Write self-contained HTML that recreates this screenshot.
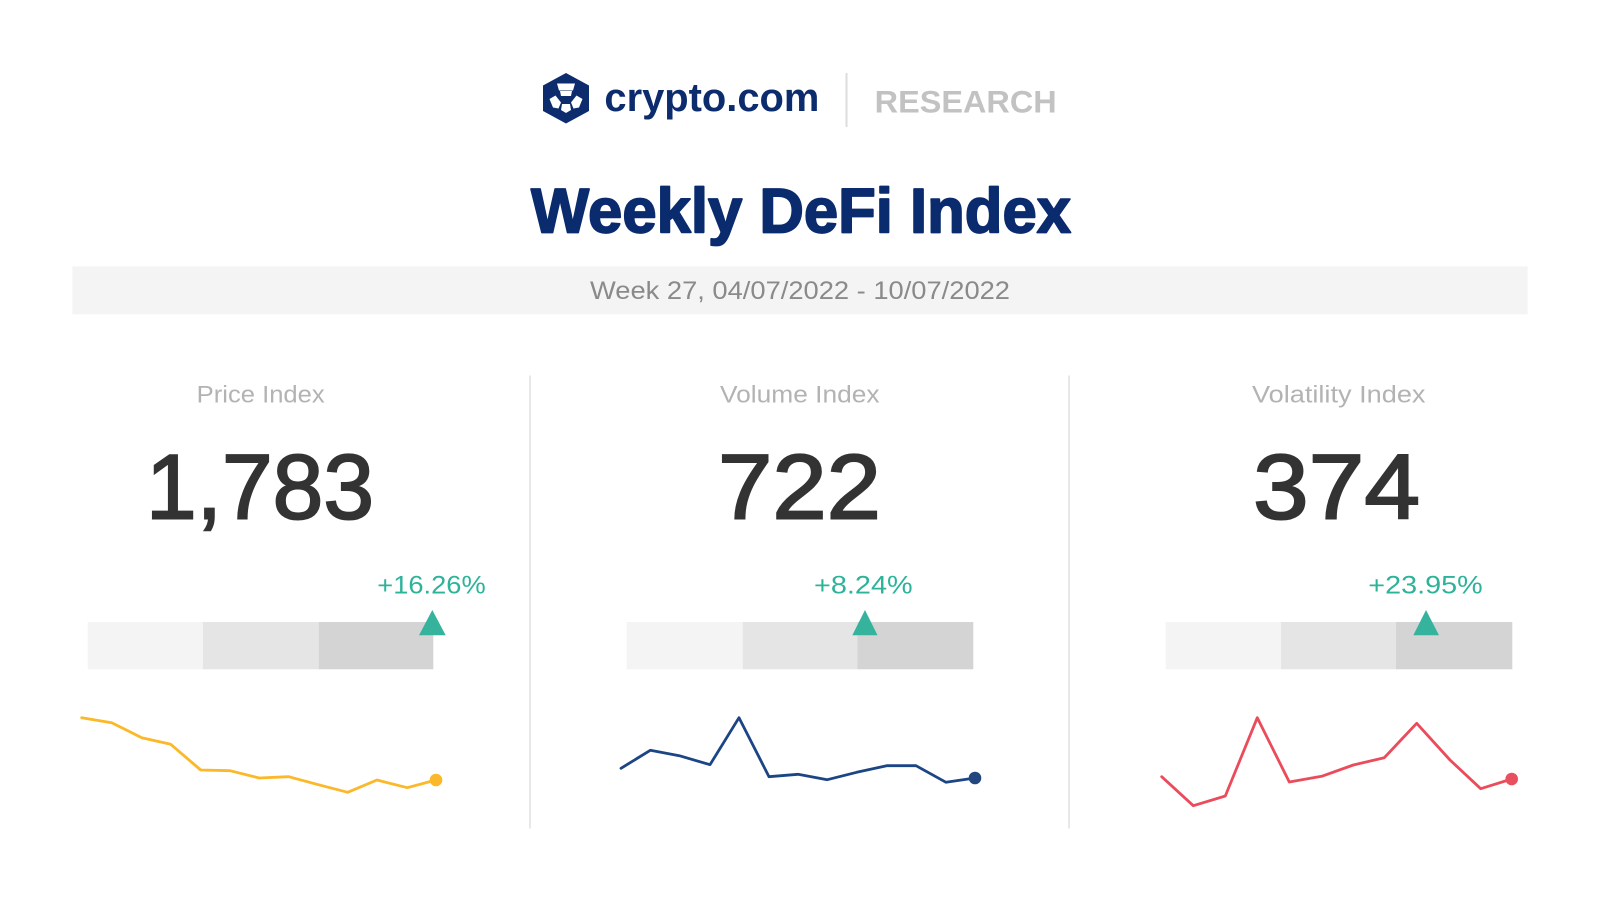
<!DOCTYPE html>
<html>
<head>
<meta charset="utf-8">
<style>
  html, body { margin: 0; padding: 0; background: #ffffff; }
  body { width: 1600px; height: 899px; overflow: hidden; }
  svg { display: block; }
  text { font-family: "Liberation Sans", "DejaVu Sans", sans-serif; }
</style>
</head>
<body>
<svg width="1600" height="899" viewBox="0 0 1600 899" xmlns="http://www.w3.org/2000/svg">
  <rect x="0" y="0" width="1600" height="899" fill="#ffffff"/>

  <!-- Logo -->
  <polygon points="566,73 589,85.5 589,111 566,123.5 543,111 543,85.5" fill="#0c2c6e"/>
  <polygon points="557,83.5 575,83.5 573,90.5 559,90.5" fill="#ffffff"/>
  <polygon points="560,91 572,91 571,96 561,96" fill="#ffffff"/>
  <polygon points="549.5,99 555.5,95.5 561,102.5 558.5,108.5 553,107.5" fill="#ffffff"/>
  <polygon points="582.5,99 576.5,95.5 571,102.5 573.5,108.5 579,107.5" fill="#ffffff"/>
  <polygon points="562,104 570,104 571,110 566,113 561,110" fill="#ffffff"/>

  <text x="604.4" y="110.8" font-size="40" font-weight="bold" fill="#0c2c6e" textLength="215" lengthAdjust="spacingAndGlyphs">crypto.com</text>
  <rect x="845.5" y="73" width="2" height="54" fill="#dcdcdc"/>
  <text x="874.7" y="112.5" font-size="31.5" font-weight="bold" fill="#c2c2c2" textLength="182" lengthAdjust="spacingAndGlyphs">RESEARCH</text>

  <!-- Title -->
  <text x="531" y="232.7" font-size="63" font-weight="bold" fill="#0a2b6e" stroke="#0a2b6e" stroke-width="1.8" stroke-linejoin="round" textLength="540" lengthAdjust="spacingAndGlyphs">Weekly DeFi Index</text>

  <!-- Week bar -->
  <rect x="72.4" y="266.3" width="1455.2" height="48" fill="#f4f4f4"/>
  <text x="590" y="299" font-size="25" fill="#8a8a8a" textLength="420" lengthAdjust="spacingAndGlyphs">Week 27, 04/07/2022 - 10/07/2022</text>

  <!-- Dividers -->
  <rect x="529" y="375.5" width="2" height="453" fill="#e8e8e8"/>
  <rect x="1068" y="375.5" width="2" height="453" fill="#e8e8e8"/>

  <!-- Headers -->
  <text x="196.7" y="402.3" font-size="24" fill="#b3b3b3" textLength="128" lengthAdjust="spacingAndGlyphs">Price Index</text>
  <text x="720" y="402.3" font-size="24" fill="#b3b3b3" textLength="159.6" lengthAdjust="spacingAndGlyphs">Volume Index</text>
  <text x="1252" y="402.3" font-size="24" fill="#b3b3b3" textLength="173.5" lengthAdjust="spacingAndGlyphs">Volatility Index</text>

  <!-- Big numbers -->
  <text x="146" y="518.3" font-size="92" fill="#333333" stroke="#333333" stroke-width="2" textLength="228" lengthAdjust="spacingAndGlyphs">1,783</text>
  <text x="718" y="518.3" font-size="92" fill="#333333" stroke="#333333" stroke-width="2" textLength="163" lengthAdjust="spacingAndGlyphs">722</text>
  <text x="1253" y="518.3" font-size="92" fill="#333333" stroke="#333333" stroke-width="2" textLength="167" lengthAdjust="spacingAndGlyphs">374</text>

  <!-- Percentages -->
  <text x="377.3" y="593.3" font-size="25" fill="#2db39a" textLength="108.4" lengthAdjust="spacingAndGlyphs">+16.26%</text>
  <text x="814" y="593.3" font-size="25" fill="#2db39a" textLength="98.7" lengthAdjust="spacingAndGlyphs">+8.24%</text>
  <text x="1368.3" y="593.3" font-size="25" fill="#2db39a" textLength="114.4" lengthAdjust="spacingAndGlyphs">+23.95%</text>

  <!-- Bars col 1 -->
  <rect x="87.7" y="622" width="115.2" height="47.3" fill="#f4f4f4"/>
  <rect x="202.9" y="622" width="115.8" height="47.3" fill="#e5e5e5"/>
  <rect x="318.7" y="622" width="114.6" height="47.3" fill="#d4d4d4"/>
  <polygon points="432.3,610 445.7,635.3 419,635.3" fill="#35b39c"/>

  <!-- Bars col 2 -->
  <rect x="626.7" y="622" width="116" height="47.3" fill="#f4f4f4"/>
  <rect x="742.7" y="622" width="114.6" height="47.3" fill="#e5e5e5"/>
  <rect x="857.3" y="622" width="116" height="47.3" fill="#d4d4d4"/>
  <polygon points="865,610 877.5,635.3 852.3,635.3" fill="#35b39c"/>

  <!-- Bars col 3 -->
  <rect x="1165.7" y="622" width="115.3" height="47.3" fill="#f4f4f4"/>
  <rect x="1281" y="622" width="115" height="47.3" fill="#e5e5e5"/>
  <rect x="1396" y="622" width="116.3" height="47.3" fill="#d4d4d4"/>
  <polygon points="1426,610 1439,635.3 1413.3,635.3" fill="#35b39c"/>

  <!-- Sparklines -->
  <polyline fill="none" stroke="#fbb828" stroke-width="2.8" stroke-linejoin="round" stroke-linecap="round"
    points="81.7,717.7 111.7,722.7 141.7,737.7 170.7,744.3 200.7,770 230,770.7 259,778 288.7,776.7 318.3,784.7 347.7,792.3 377,780 407.3,787.7 436,780"/>
  <circle cx="436" cy="780" r="6.3" fill="#fbb828"/>

  <polyline fill="none" stroke="#1c4585" stroke-width="2.8" stroke-linejoin="round" stroke-linecap="round"
    points="621,768.3 650.3,750.3 679.3,755.7 710,764.7 739,717.7 769,776.7 798,774.3 827.3,779.7 856.7,772.3 886.7,765.7 916,765.7 946,782.3 975,778"/>
  <circle cx="975" cy="778" r="6.3" fill="#23467f"/>

  <polyline fill="none" stroke="#ea4c5c" stroke-width="2.8" stroke-linejoin="round" stroke-linecap="round"
    points="1161.7,776.7 1193.3,805.7 1225.3,796 1257.3,717.7 1289.3,782 1321.7,776.3 1353.3,765 1384.3,757.7 1416.7,723.3 1450,760 1480.7,788.7 1511.7,779"/>
  <circle cx="1511.7" cy="779" r="6.3" fill="#e9505f"/>
</svg>
</body>
</html>
